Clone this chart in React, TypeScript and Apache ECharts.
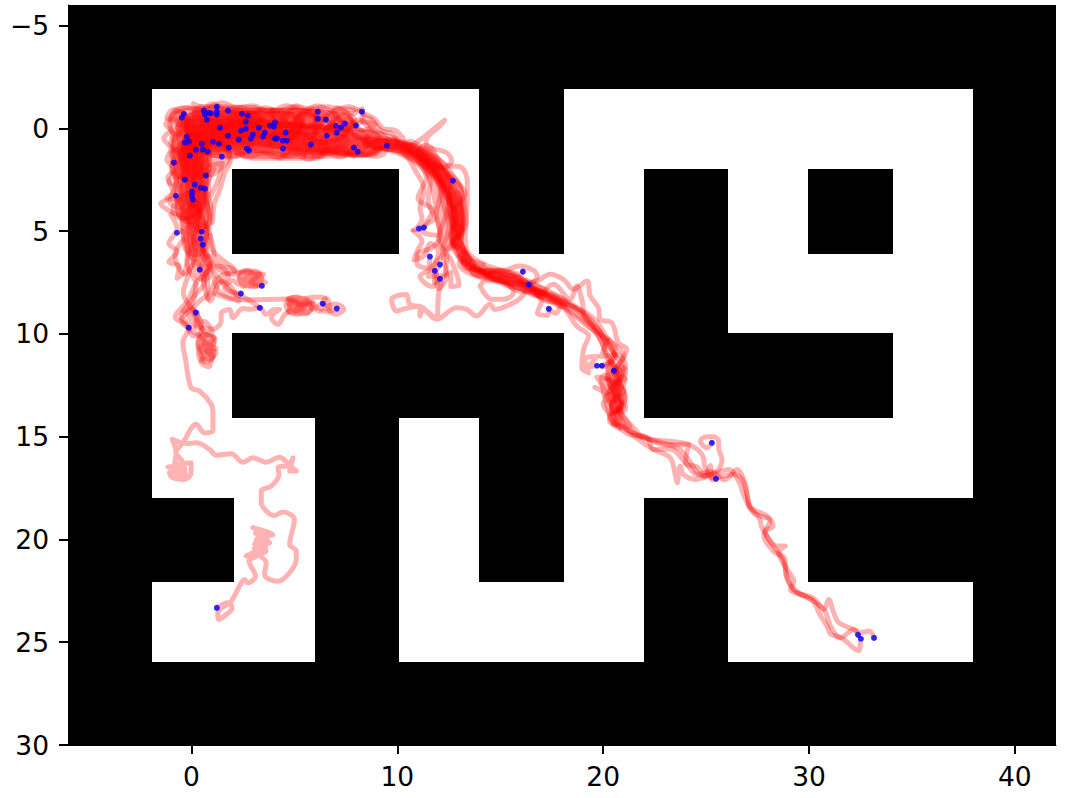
import React, { useEffect, useRef } from "react";
import * as echarts from "echarts";

const xTicks = [0, 10, 20, 30, 40];
const yTicks = [-5, 0, 5, 10, 15, 20, 25, 30];

// open maze corridors: x0, x1, y0, y1
const corridors = [
  [-1.91, 13.98, -1.93, 1.96], [18.09, 37.96, -1.93, 1.96],
  [-1.91, 1.96, 1.96, 6.12], [10.1, 13.98, 1.96, 6.12], [18.09, 21.96, 1.96, 6.12], [26.07, 29.93, 1.96, 6.12], [34.06, 37.96, 1.96, 6.12],
  [-1.91, 21.96, 6.12, 9.98], [26.07, 37.96, 6.12, 9.98],
  [-1.91, 1.96, 9.98, 14.08], [18.09, 21.96, 9.98, 14.08], [34.06, 37.96, 9.98, 14.08],
  [-1.91, 5.99, 14.08, 17.97], [10.1, 13.98, 14.08, 17.97], [18.09, 37.96, 14.08, 17.97],
  [2.08, 5.99, 17.97, 22.08], [10.1, 13.98, 17.97, 22.08], [18.09, 21.96, 17.97, 22.08], [26.07, 29.93, 17.97, 22.08],
  [-1.91, 5.99, 22.08, 25.94], [10.1, 21.96, 22.08, 25.94], [26.07, 37.96, 22.08, 25.94],
];

const endX = [-0.47,-0.37,0.6,0.65,0.75,0.84,0.94,1.23,1.23,1.23,1.77,2.45,2.74,2.64,1.38,-0.23,-0.32,-0.13,0.5,0.21,0.55,0.79,1.04,1.33,1.77,1.81,1.47,-0.08,-0.86,2.3,2.4,2.64,2.98,2.88,2.69,2.79,3.27,3.81,4.0,4.05,3.56,3.47,4.05,4.15,4.44,4.63,4.58,4.44,5.8,6.14,6.14,6.53,7.01,7.26,7.45,7.06,6.58,7.99,8.28,7.89,8.08,9.49,12.7,0.7,-0.32,0.16,0.45,0.65,0.02,0.02,0.06,-0.76,0.5,0.45,0.55,-0.71,11.05,11.29,11.58,12.07,11.82,12.07,0.4,3.42,2.4,3.32,6.38,7.06,0.21,-0.13,1.23,16.1,16.39,17.36,19.7,19.94,20.52,25.28,25.48,32.38,32.52,33.16];
const endY = [-0.52,-0.71,-0.86,-0.68,-0.42,-0.75,-0.73,-1.05,-0.83,-0.67,-0.86,-0.71,-0.62,-0.32,-0.03,0.41,0.7,0.65,0.75,1.04,1.04,1.14,0.65,0.75,0.36,0.94,1.38,1.33,1.67,0.55,0.11,0.02,0.31,0.5,0.99,1.09,-0.03,-0.13,-0.08,-0.28,0.21,0.41,0.5,0.5,0.6,0.6,0.21,0.99,0.79,-0.81,-0.47,-0.42,-0.13,-0.03,-0.23,0.21,0.36,-0.13,-0.81,0.94,1.14,0.84,2.55,2.3,2.5,2.74,2.89,2.94,3.08,3.28,3.47,3.28,5.03,5.37,5.66,5.08,4.88,4.83,6.24,6.63,6.93,7.32,6.88,7.66,8.04,8.73,8.53,8.77,8.97,9.7,23.33,6.97,7.61,8.78,11.55,11.55,11.79,15.3,17.05,24.64,24.83,24.79];

// saturated cores of the heavily travelled corridor
const coreA = [0.3,-0.2, 4.8,-0.15];
const coreB = [0.3,0, 3,0.1, 5,0.45, 8.6,0.72];
const coreC = [0.3,0.5, 2.5,0.5, 6,0.6, 9,0.8];
const coreD = [0.2,-0.2, 5.6,-0.12];
const coreE = [0.4,0.5, 3.5,0.3, 8,0.62];
const coreF = [0.3,-0.15, 2.8,-0.2, 2.4,0.6, 0.3,0.6];
const coreG = [0.2,0.2, 3,0.2, 7,0.55];
const coreH = [0.15,0.9, 0.2,2.1, 0.1,3.2];
const coreI = [0.1,1, 0.15,2.6, -0.1,4];
const coreJ = [0.25,0.8, 0.3,1.8];
const coreK = [-0.1,1.5, 0.1,3.9, 0.2,5.6];
const coreL = [1,0.2, 3,0.9, 6,0.9];
const coreList = [coreA, coreB, coreC, coreD, coreE, coreF, coreG, coreH, coreI, coreJ, coreK, coreL];

const wideA = [-0.45,0.5, -0.4,2.4, -0.3,4.0];
const wideB = [0.5,1.0, 0.45,3.4, 0.3,4.6];
const wideC = [-0.3,1.0, 0.2,3.0, -0.1,4.6, 0.2,6.0];
const wideD = [0.2,4.0, 0.3,5.6, 0.6,7.0];
const wideE = [-0.6,-0.4, -0.5,0.8, -0.6,2.0];
const wideF = [-0.4,-0.45, 0.3,-0.6, 2.2,-0.55];
const wideG = [-0.3,-0.1, -0.2,1.0, -0.1,2.2];
const wideH = [2.2,-0.5, 5,-0.5, 7.6,-0.3];
const wideI = [3,-0.55, 6,-0.45, 7.4,-0.25];
const wideJ = [1,0.95, 3.5,1.0, 6,1.0, 8.8,0.9];
const wideK = [0.5,-0.7, 3,-0.65];
const wideL = [11.4,1.2, 12.0,2.6, 12.3,4.2, 12.5,5.5];
const wideM = [10.6,1.0, 11.7,1.7, 12.7,3.0, 13.0,4.6];
const wideN = [0.9,0.9, 1.5,1.3, 0.9,1.9];
const wideO = [0.7,10.4, 0.7,11.0];
const wideP = [4.95,8.6, 5.45,8.65];
const wideQ = [2.7,7.3, 3.05,7.3];
const wideList = [wideA, wideB, wideC, wideD, wideE, wideF, wideG, wideH, wideI, wideJ, wideK, wideL, wideM, wideN, wideO, wideP, wideQ];

const bandA = [8.6,0.72, 10.2,0.95, 11.3,1.6, 12.3,2.8, 12.85,4, 12.9,5.5, 13.5,6.6];
const bandB = [9,0.8, 10.5,1.0, 11.8,2.0, 12.7,3.2, 12.95,4.6, 12.8,5.4, 13.3,6.4];
const bandC = [8.6,0.65, 10,0.8, 11.2,1.3, 12.4,2.6, 12.9,3.8, 12.95,5.1];
const bandD = [12.85,3.3, 12.95,4.4, 12.9,5.6];
const bandE = [20.4,11.6, 20.55,12.6, 20.6,13.6];
const bandF = [20.1,12.2, 20.3,13.2, 20.6,14.2];
const bandG = [20.9,11.8, 20.8,12.6, 20.9,13.6];
const bandN = [13.4,6.6, 15,7.1, 16.5,7.7, 18,8.5];
const bandO = [13.8,6.9, 15.4,7.35, 17,8.0];
const bandP = [0.0,9.0, 0.3,9.5];
const bandList = [bandA, bandB, bandC, bandD, bandE, bandF, bandG, bandN, bandO, bandP];

const walkLong = [1.23,23.33, 1.77,23.08, 1.98,23.32, 1.6,23.73, 1.31,23.9, 1.28,23.57, 1.6,23.24, 1.93,23.0, 2.42,22.11, 2.58,21.95, 2.74,22.11, 3.11,21.78, 2.79,21.05, 3.15,20.81, 3.31,20.49, 2.66,20.81, 3.63,20.57, 3.07,20.24, 3.8,20.16, 3.23,19.92, 3.96,19.76, 2.98,19.43, 3.55,19.76, 3.15,20.0, 3.7,20.05, 3.1,20.15, 3.63,20.3, 3.05,20.45, 3.6,20.45, 3.2,20.7, 3.4,19.6, 3.1,19.7, 3.6,19.95, 3.2,20.6, 3.63,21.14, 3.55,21.7, 3.8,21.95, 4.2,22.03, 4.69,21.7, 5.09,20.97, 5.09,20.57, 4.77,20.24, 5.0,19.03, 4.44,18.67, 4.04,18.83, 3.72,18.7, 3.39,18.2, 3.39,17.65, 3.88,17.4, 4.25,16.84, 4.2,16.51, 4.69,16.43, 5.09,16.67, 4.77,16.67, 4.93,16.03, 4.77,16.3, 4.28,16.0, 3.63,16.24, 2.98,16.03, 2.5,16.24, 1.93,15.83, 1.2,15.91, 0.88,15.62, 0.23,15.3, -0.26,15.33, -0.94,15.13, -0.75,15.78, -0.83,16.35, -0.02,16.27, -0.02,16.76, -0.34,17.08, -0.91,17.0, -1.07,16.76, -0.5,16.68, -1.15,16.46, -0.42,16.43, -0.85,16.55, -0.45,16.55, -0.75,16.95, -0.3,16.85, -0.45,16.2, -0.75,15.78, -0.42,15.3, 0.23,14.4, 0.63,14.81, 1.04,14.73, 1.04,14.16, 1.04,13.84, 0.96,13.43, 0.39,12.78, -0.02,12.62, -0.29,11.24, -0.42,10.43, -0.13,9.7, -0.5,9.1, 0.0,8.6, 0.21,7.6, -0.2,6.6, 0.1,5.4, 0.4,4.2, 0.1,2.4, 0.6,0.8];
const walkLow = [0.7,0.6, 0.4,2.5, 0.9,4.4, 0.6,5.8, 0.9,6.8, 0.3,7.4, -0.2,8.4, -0.8,9.2, -0.3,9.5, 0.1,10.1, 0.4,10.0, 0.6,9.7, 1.0,9.78, 1.44,9.38, 1.44,9.0, 1.85,8.81, 2.01,9.21, 2.5,8.77, 2.9,8.8, 3.32,8.73, 3.63,9.05, 4.04,8.81, 4.28,8.81, 3.88,9.21, 4.2,9.54, 4.53,9.05, 4.75,8.9, 4.8,8.4, 5.4,8.6, 5.9,8.5, 6.2,8.9, 6.6,8.9, 7.06,8.77];
const walkBlobA = [0.2,8.9, 0.5,9.9, 0.3,10.5, 0.6,11.1, 0.45,11.35, 0.85,11.6, 1.0,11.2, 1.2,10.9, 0.85,10.8, 1.15,10.3, 0.85,10.0, 0.5,10.3, 0.9,10.6, 0.55,10.9, 0.85,11.0, 0.5,10.1, 1.0,9.9, 0.6,9.4, 0.2,9.6, 0.3,8.97];
const walkBlobB = [0.1,9.0, 0.7,10.0, 1.1,10.2, 0.8,10.5, 1.2,10.7, 0.7,10.8, 1.05,11.1, 0.6,11.25, 0.4,10.7, 0.7,10.4, 0.45,10.15, -0.5,9.3, -0.1,8.9, 0.4,8.4, 0.8,8.0, 0.7,6.7];
const walkBlobC = [4.7,8.3, 5.1,8.2, 5.4,8.35, 5.0,8.55, 5.6,8.5, 4.9,8.75, 5.5,8.9, 5.1,9.05, 4.7,8.9, 5.3,8.7, 4.7,8.55, 5.5,8.3, 5.9,8.6, 5.6,9.0, 5.2,8.5, 6.1,8.2, 6.6,8.3, 6.7,8.7, 6.38,8.53];
const walkBlobD = [1.1,7.3, 1.4,8.0, 2.66,8.35, 4.6,8.3, 5.1,8.4, 5.5,8.7, 5.0,8.9, 5.6,8.4, 5.9,8.8, 6.5,8.3, 6.3,8.8, 7.0,8.55, 7.4,8.8, 7.0,9.05, 6.38,8.53];
const walkBlobE = [1.2,6.7, 1.9,6.8, 2.3,7.0, 2.7,6.9, 3.1,7.1, 3.5,7.1, 3.3,7.4, 3.6,7.5, 3.0,7.3, 2.5,7.7, 2.3,7.25, 2.8,7.65, 3.2,7.7, 2.75,7.2, 2.3,7.6, 2.0,7.4, 1.6,7.8, 2.4,8.04];
const walkBlobF = [0.3,5.5, 0.9,6.4, 1.2,6.8, 2.0,7.1, 2.6,7.0, 3.3,7.1, 2.9,7.5, 3.42,7.66];
const walkF1 = [0.2,3.8, 0.75,5.1, 0.5,6.0, 1.0,6.9, 1.5,7.5, 2.0,8.0, 2.7,8.3, 3.32,8.73];
const walkF2 = [-0.2,4.8, 0.2,5.9, -0.1,7.0, -0.4,8.0, 0.2,8.97];
const walkF3 = [0.7,4.6, 1.1,6.2, 0.6,7.4, 0.9,8.4, 1.3,7.6, 1.8,7.2, 1.35,6.6, 0.8,6.2, 0.4,6.88];
const walkF4 = [-1.0,4.2, -0.7,4.9, -1.1,5.6, -0.7,6.0, -1.1,6.5, -0.6,6.7, -0.7,7.3, -0.3,6.9, -0.2,6.0, -0.4,5.0, -0.71,5.08];
const walkF5 = [0.2,3.6, -0.5,4.2, -1.5,3.65, -0.7,3.4, -0.2,4.5, 0.4,4.9, 0.5,5.03];
const walkF6 = [0.9,5.2, 1.0,5.9, 1.5,6.4, 2.1,6.9, 1.4,7.2, 1.0,7.9, 1.6,8.2, 2.3,8.4, 1.9,7.7, 1.3,7.4, 0.8,8.3];
const walkF7 = [-0.4,5.4, -0.8,6.2, -0.3,7.1, 0.2,6.5, 0.6,7.5, 0.1,8.2, -0.4,8.9];

const walkRim1 = [1.2,-1.05, 0.4,-0.85, -0.2,-1.0, -0.7,-0.95, -1.0,-0.55, -1.25,-0.2, -0.9,0.2, -1.0,0.7, -0.85,1.3, -0.95,1.9, -0.7,2.4, -0.85,3.0, -1.05,3.6, -0.6,3.9, -0.8,3.28];
const walkRim2 = [5.8,-0.7, 5.0,-1.05, 4.2,-0.85, 3.6,-1.0, 3.0,-0.8, 2.4,-1.0, 1.7,-0.95, 1.0,-1.2, 0.5,-0.9, -0.1,-1.0, -0.9,-0.7, -1.05,0.0, -0.7,0.3, -0.37,-0.71];
const walkRim3 = [7.9,-0.9, 7.2,-0.95, 6.6,-1.05, 5.7,-0.95, 5.1,-1.1, 4.6,-0.8, 3.5,-0.85, 2.6,-0.7, 1.8,-0.85, 1.23,-1.05];
const walkRim4 = [1.0,1.3, 1.9,1.4, 3.0,1.1, 4.0,1.2, 4.8,1.35, 5.4,1.2, 6.2,1.35, 7.0,1.15, 8.0,1.3, 8.8,1.15, 9.5,0.84];
const walkRim5 = [-0.5,0.2, -0.9,0.8, -0.5,1.5, -0.86,1.67];
const walkRim6 = [-0.7,-0.4, -1.2,-0.5, -0.9,-0.9, -0.3,-0.6, -0.7,0.0, -0.47,-0.52];
const walkRim7 = [-0.3,1.0, -1.0,1.2, -0.7,2.0, -1.1,2.6, -0.6,2.8, -0.9,2.2, -0.32,2.5];
const walkRim8 = [1.4,0.6, 1.9,1.5, 1.6,2.2, 1.4,2.9, 1.1,3.7, 1.0,4.6, 0.7,3.0, 1.1,2.0, 0.7,2.3];
const walkRim9 = [0.3,3.0, -0.6,3.4, -0.9,4.0, -0.4,4.4, 0.3,4.0, -0.2,3.5, 0.06,3.47];
const walkRim10 = [0.9,1.8, 1.5,1.7, 1.3,2.5, 0.8,3.5, 0.2,4.4, 0.7,4.8, 0.95,3.9, 0.65,2.94];
const walkRim11 = [2.2,1.2, 2.9,1.35, 3.5,1.2, 4.3,1.45, 4.9,1.2, 5.7,1.5, 6.5,1.2, 7.3,1.4, 7.7,1.2, 8.4,1.3, 8.89,1.1];
const walkRim12 = [0.1,-1.2, 0.7,-1.0, 1.5,-1.25, 2.2,-1.0, 3.0,-1.1, 3.8,-0.8, 4.6,-1.1, 5.4,-0.85, 6.1,-1.1, 6.9,-0.85, 7.6,-1.05, 8.2,-0.85];
const walkRim13 = [-1.1,0.2, -1.35,0.5, -1.0,1.0, -1.2,1.5, -0.85,2.0, -1.15,2.4, -0.9,3.1, -1.2,3.4, -0.7,3.0];
const walkRim14 = [8.4,-0.7, 8.9,-0.45, 9.3,0.0, 9.9,0.1, 10.3,0.5, 9.6,0.4, 8.9,0.1];
const walkTop1 = [6.0,0.2, 6.14,-0.9, 6.7,-0.6, 7.1,-1.0, 7.7,-0.7, 8.3,-0.95, 8.28,-0.4, 8.9,-0.2, 8.3,0.1, 7.6,-0.5, 7.0,0.0, 6.5,-0.5, 6.14,-0.81];
const walkTop2 = [5.2,0.2, 5.7,-0.8, 6.3,-0.3, 6.0,0.2, 6.9,-0.2, 7.5,-0.8, 8.0,-0.2, 8.6,-0.5, 9.2,0.1, 9.8,0.3, 10.0,0.7, 9.2,0.5, 8.28,-0.81];
const walkTop3 = [4.8,0.7, 5.2,-0.6, 5.9,-0.9, 6.2,-0.2, 6.8,-0.8, 7.3,-0.3, 7.99,-0.13];
const walkTop4 = [3.8,0.8, 4.4,-0.5, 5.1,-0.9, 5.6,0.0, 6.14,-0.47];
const walkTop5 = [4.2,-0.7, 4.8,-0.2, 5.4,-0.7, 6.0,-0.5, 6.53,-0.42];
const walkTop6 = [6.5,0.2, 7.1,-0.5, 7.6,0.1, 8.1,-0.4, 8.7,0.2, 8.2,0.5, 7.45,-0.23];
const walkTop7 = [7.1,-0.7, 6.7,0.0, 7.3,0.4, 7.8,-0.3, 7.26,-0.03];
const walkTop8 = [3.9,-0.9, 4.3,-0.1, 4.8,-0.7, 5.3,0.0, 4.63,0.6];
const walkTop9 = [2.6,-0.8, 3.1,-0.1, 3.7,-0.7, 4.3,0.0, 4.05,-0.28];
const walkTop10 = [5.9,1.2, 6.6,1.0, 7.4,1.25, 7.89,0.94];
const walkTop11 = [6.3,1.2, 7.2,0.9, 7.9,1.35, 8.08,1.14];
const walkTop12 = [4.4,1.3, 5.1,1.0, 5.5,1.3, 5.8,0.79];

const walkRight1 = [8.6,0.7, 9.8,0.55, 10.4,0.9, 11.26,0.45, 11.74,0.05, 12.3,-0.4, 12.05,-0.1, 11.4,0.6, 11.42,0.86, 12.39,1.18, 12.64,1.59, 12.23,1.91, 11.74,1.91, 11.3,1.3, 10.7,1.0, 9.6,0.9];
const walkRight2 = [9.4,0.6, 10.7,0.8, 11.7,1.3, 12.4,1.8, 13.1,1.9, 13.4,2.6, 13.4,3.6, 13.3,5.0, 13.4,6.0, 14.2,6.6];
const walkRight3 = [9.2,0.95, 10.3,1.25, 10.9,2.1, 11.3,3.0, 11.1,3.9, 11.2,4.4, 10.9,4.9, 10.75,4.95, 11.05,4.88];
const walkRight4 = [9.4,1.0, 10.8,1.6, 11.6,2.6, 11.5,3.5, 11.8,4.4, 11.5,4.6, 11.29,4.83];
const walkRight5 = [10.3,0.9, 11.5,1.9, 12.1,3.1, 11.9,4.2, 12.1,5.2, 11.7,5.8, 11.0,6.1, 10.95,6.6, 11.5,6.8, 11.58,6.24];
const walkRight6 = [11.0,1.1, 12.0,2.4, 12.2,3.6, 12.5,4.8, 12.2,6.0, 12.4,7.2, 12.0,7.8, 11.9,7.0, 12.07,6.63];
const walkRight7 = [11.4,1.4, 12.6,2.6, 12.4,4.1, 12.0,5.4, 12.6,6.4, 13.0,7.6, 12.6,7.7, 12.6,7.0, 11.8,7.5, 11.82,6.93];
const walkRight8 = [11.8,1.7, 13.1,2.9, 13.2,4.6, 12.5,5.8, 11.5,6.9, 11.1,7.2, 11.7,7.7, 12.07,7.32];
const walkRight9 = [9.9,0.7, 11.0,1.0, 11.9,1.6, 12.7,2.55];
const walkRight10 = [12.4,2.3, 13.3,3.2, 12.6,4.2, 13.2,5.0, 12.7,5.5, 13.3,6.1, 13.0,6.6, 14.1,7.2, 15.0,6.9, 16.0,7.1, 16.1,6.97];
const walkRight11 = [10.8,5.0, 11.2,5.5, 11.0,5.9, 10.8,6.4, 11.3,6.2, 11.6,5.6, 12.0,6.0, 11.5,7.2, 12.3,7.1, 12.4,6.2];
const walkRight12 = [10.6,1.1, 11.4,2.4, 11.0,3.4, 11.7,4.0, 11.2,5.0, 11.9,5.2];

const walkMid1 = [12.8,5.5, 13.4,6.7, 14.2,6.9, 15.2,6.9, 15.9,6.7, 16.6,6.9, 16.8,7.2, 16.39,7.61];
const walkMid2 = [13.0,6.2, 13.9,7.2, 15.0,7.4, 15.8,7.9, 16.6,8.0, 17.0,8.4, 16.8,9.0, 17.3,9.1, 17.36,8.78];
const walkMid3 = [13.3,6.5, 14.4,7.1, 15.6,7.2, 16.3,7.5, 17.0,8.3, 17.9,8.6, 17.7,9.0, 17.36,8.78];
const walkMid4 = [13.6,6.8, 14.8,7.3, 15.8,7.6, 16.77,7.43, 17.42,7.1, 18.07,7.35, 18.56,7.83, 19.21,7.43, 19.37,8.16, 19.77,8.73, 19.85,9.29, 20.42,9.46, 20.74,10.43, 21.15,10.75, 20.83,11.4, 20.52,11.79];
const walkMid5 = [14.0,7.0, 15.2,7.5, 16.2,7.9, 16.77,8.16, 17.58,7.59, 18.39,8.32, 18.72,7.67, 19.0,8.5, 19.1,9.2, 19.8,9.8, 20.1,10.4, 20.6,11.1, 19.94,11.55];
const walkMid6 = [14.3,7.2, 15.5,7.7, 17.0,8.0, 17.9,8.4, 18.3,9.0, 18.72,9.62, 19.29,10.1, 19.05,10.75, 18.96,11.65, 19.3,11.9, 19.1,11.2, 19.7,11.1, 19.3,11.6, 19.7,11.55];
const walkMid7 = [15.0,7.2, 16.5,7.8, 17.6,8.1, 18.4,8.5, 19.2,9.1, 19.9,10.0, 20.5,10.9, 20.0,11.6, 19.94,11.55];
const walkMid8 = [14.02,7.67, 14.58,8.32, 15.15,8.32, 15.64,8.0, 15.3,7.5, 14.3,7.4, 14.02,7.67];
const walkWest = [12.15,7.5, 12.0,8.08, 11.9,9.29, 11.26,8.81, 11.1,9.13, 11.1,8.65, 10.53,8.73, 9.96,8.89, 9.72,8.32, 10.44,8.08, 10.61,8.56, 11.2,8.7, 11.9,9.29, 12.88,8.73, 13.37,8.81, 13.85,9.13, 14.5,8.56, 14.74,8.81, 15.8,8.4, 16.2,8.0];

const walkTail1 = [1.0,0.2, 2.4,-0.3, 3.6,0.4, 5.0,0.1, 6.4,0.7, 7.8,0.3, 9.0,0.9, 10.2,0.8, 11.2,1.5, 12.0,2.2, 12.4,3.4, 12.9,4.2, 12.6,5.2, 13.0,6.0, 13.6,6.8, 14.6,7.0, 15.6,7.2, 16.4,7.7, 17.2,8.0, 18.2,8.5, 19.0,9.0, 19.6,9.8, 20.0,10.6, 20.4,11.4, 20.8,12.2, 20.5,13.0, 20.9,13.9, 21.5,14.6, 21.96,15.05, 23.1,15.21, 24.15,15.38, 24.8,15.86, 24.96,16.51, 25.29,17.0, 26.34,16.84, 26.75,17.08, 27.0,17.89, 27.15,18.46, 27.96,18.86, 28.26,19.35, 27.88,19.6, 28.45,20.32, 28.85,20.32, 28.53,20.65, 28.94,21.46, 29.26,22.03, 29.1,22.43, 29.83,22.76, 30.72,23.4, 31.05,24.22, 31.53,24.79, 32.18,24.38, 32.38,24.64];
const walkTail2 = [9.6,0.8, 11,1.4, 12.1,2.6, 12.7,3.8, 13,5.2, 13.4,6.4, 14.4,7.1, 15.8,7.4, 17.0,8.2, 18.6,8.7, 19.6,9.3, 20.2,10.2, 21,11.1, 20.5,11.9, 21,12.8, 20.4,13.5, 20.6,14.3, 21.3,14.9, 22.1,15.0, 22.45,15.62, 23.26,15.6, 24.0,16.27, 24.56,16.84, 25.2,16.7, 25.9,17.1, 26.5,16.6, 26.9,17.3, 27.1,18.3, 27.6,19.0, 27.7,19.4, 28.4,20.5, 28.75,21.0, 29.0,22.0, 29.5,22.6, 30.2,22.85, 30.72,23.4, 30.96,22.92, 31.2,23.56, 31.45,24.05, 32.18,24.38, 32.5,24.54, 32.92,24.46, 33.16,24.79];
const walkTail3 = [10,0.9, 11.5,1.6, 12.4,3, 12.6,4.4, 13.2,5.8, 14,6.9, 15.4,7.0, 16.8,7.9, 18.2,8.8, 19.2,9.6, 20.6,10.8, 20.2,12.1, 20.8,13.2, 20.9,14.2, 21.6,14.9, 22.9,15.3, 23.7,15.6, 24.2,16.2, 24.8,16.9, 25.4,16.8, 26.1,16.6, 26.6,17.2, 26.85,17.9, 27.3,18.7, 28.1,19.1, 27.8,19.8, 28.3,20.6, 28.8,20.9, 28.9,21.8, 29.3,22.5, 30.2,23.0, 30.5,23.6, 30.88,24.23, 31.05,24.6, 31.6,24.8, 32.18,25.29, 32.42,25.41, 32.5,25.0, 32.52,24.83];
const walkTail4 = [13.2,6.0, 14.6,7.3, 16.2,7.6, 17.7,8.4, 19.0,9.3, 19.9,10.3, 20.2,11.2, 20.9,12.0, 20.2,13.0, 20.6,13.8, 21.1,14.6, 21.8,15.2, 22.45,15.62, 23.26,16.03, 23.5,16.84, 23.6,17.24, 23.74,16.43, 23.9,16.84, 24.48,17.08, 25.05,16.92, 25.6,16.6, 25.77,16.1, 25.61,15.54, 25.61,15.21, 25.36,15.0, 25.04,15.0, 24.72,15.21, 25.04,15.54, 25.28,15.3];
const walkTail5 = [13.8,6.9, 15.2,7.2, 16.9,8.0, 18.4,8.6, 19.4,9.5, 20.5,10.9, 21.0,11.9, 20.4,12.7, 21.0,13.5, 20.3,14.0, 21.2,14.7, 21.96,15.0, 23.0,15.4, 24.15,15.38, 24.0,16.27, 24.6,16.5, 24.95,16.95, 25.2,16.4, 25.3,17.1, 25.48,17.05];
const walkKnotA = [20.2,12.2, 20.9,12.6, 20.1,13.1, 20.9,13.4, 20.4,13.9, 20.0,13.4, 20.7,12.9, 20.3,12.5, 21.1,12.2, 20.6,11.9];
const walkKnotB = [19.6,12.6, 20.2,12.9, 19.7,12.1, 20.4,12.3, 21.1,13.1, 20.3,14.2, 20.8,14.6, 20.4,13.4, 20.9,12.7, 20.5,11.8];
const walkKnotC = [20.2,10.3, 19.9,11.1, 20.7,11.0, 21.1,11.6, 20.4,12.0, 20.9,13.3, 20.5,14.4, 21.3,14.5, 20.7,13.6];

const walkList = [
  walkLong, walkLow, walkBlobA, walkBlobB, walkBlobC, walkBlobD, walkBlobE, walkBlobF, walkF1, walkF2, walkF3, walkF4, walkF5, walkF6, walkF7,
  walkRim1, walkRim2, walkRim3, walkRim4, walkRim5, walkRim6, walkRim7, walkRim8, walkRim9, walkRim10, walkRim11, walkRim12, walkRim13, walkRim14,
  walkTop1, walkTop2, walkTop3, walkTop4, walkTop5, walkTop6, walkTop7, walkTop8, walkTop9, walkTop10, walkTop11, walkTop12,
  walkRight1, walkRight2, walkRight3, walkRight4, walkRight5, walkRight6, walkRight7, walkRight8, walkRight9, walkRight10, walkRight11, walkRight12,
  walkMid1, walkMid2, walkMid3, walkMid4, walkMid5, walkMid6, walkMid7, walkMid8, walkWest,
  walkTail1, walkTail2, walkTail3, walkTail4, walkTail5, walkKnotA, walkKnotB, walkKnotC,
];

const toPairs = (flat: number[]) => {
  const out: number[][] = [];
  for (let i = 0; i + 1 < flat.length; i += 2) out.push([flat[i], flat[i + 1]]);
  return out;
};

const lineSeries = (flat: number[], width: number, smooth: number) => ({
  type: "line",
  data: toPairs(flat),
  showSymbol: false,
  symbol: "none",
  silent: true,
  smooth,
  z: 3,
  lineStyle: { color: "#ff0000", opacity: 0.3, width, join: "round", cap: "round" },
});

export default function App() {
  const ref = useRef<HTMLDivElement>(null);
  useEffect(() => {
    document.body.style.margin = "0";
    const chart = echarts.init(ref.current!, undefined, { renderer: "svg" });
    const label = { color: "#000", fontFamily: "DejaVu Sans", fontSize: 26.5 };
    chart.setOption({
      animation: false,
      backgroundColor: "#fff",
      grid: { left: 68, top: 5, width: 988, height: 740, show: true, backgroundColor: "#000", borderColor: "#000", borderWidth: 0 },
      xAxis: {
        type: "value", min: -6, max: 42, position: "bottom",
        splitLine: { show: false },
        axisLine: { onZero: false, lineStyle: { color: "#000", width: 1 } },
        axisTick: { length: 9, lineStyle: { color: "#000", width: 2 }, customValues: xTicks },
        axisLabel: { ...label, margin: 18, customValues: xTicks, hideOverlap: false },
      },
      yAxis: {
        type: "value", min: -6, max: 30, inverse: true, position: "left",
        splitLine: { show: false },
        axisLine: { onZero: false, lineStyle: { color: "#000", width: 1 } },
        axisTick: { length: 9, lineStyle: { color: "#000", width: 2 }, customValues: yTicks },
        axisLabel: { ...label, margin: 19, customValues: yTicks, formatter: (v: number) => String(v).replace("-", "\u2212") },
      },
      series: [
        {
          type: "custom",
          z: 1,
          silent: true,
          data: corridors,
          encode: { x: [0, 1], y: [2, 3] },
          renderItem: (_p: any, api: any) => {
            const a = api.coord([api.value(0), api.value(2)]);
            const b = api.coord([api.value(1), api.value(3)]);
            const x0 = Math.round(a[0]), y0 = Math.round(a[1]);
            return { type: "rect", shape: { x: x0, y: y0, width: Math.round(b[0]) - x0, height: Math.round(b[1]) - y0 }, style: { fill: "#fff" } };
          },
        },
        ...coreList.map((c) => lineSeries(c, 28, 0)),
        ...wideList.map((c) => lineSeries(c, 20, 0.3)),
        ...bandList.map((c) => lineSeries(c, 13, 0.3)),
        ...walkList.map((c) => lineSeries(c, 5, 0.35)),
        {
          type: "scatter",
          z: 5,
          silent: true,
          symbol: "circle",
          symbolSize: 6,
          itemStyle: { color: "#0000ff" },
          data: endX.map((x, i) => [x, endY[i]]),
        },
      ],
    });
    return () => chart.dispose();
  }, []);
  return <div ref={ref} style={{ position: "absolute", left: 0, top: 0, width: 1068, height: 798 }} />;
}
